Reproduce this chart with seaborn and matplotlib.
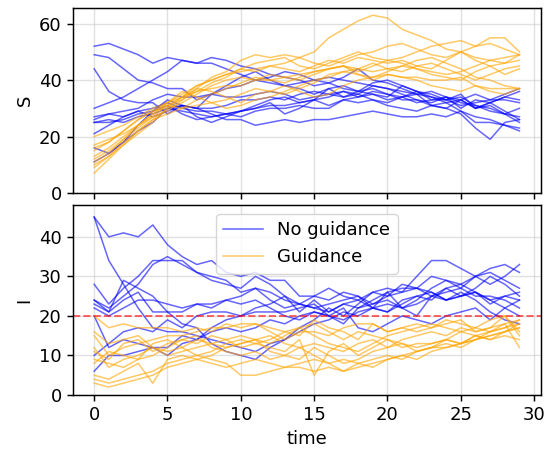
import numpy as np
import pandas as pd
import matplotlib
matplotlib.use("Agg")
import matplotlib.pyplot as plt
import seaborn as sns

time = list(range(30))

# S, No guidance
S_no = [
    [52,53,51,49,46,48,47,46,48,47,45,44,42,41,40,38,39,37,36,37,35,34,36,33,34,32,31,30,28,27],
    [49,48,44,40,39,37,37,33,35,34,34,35,36,35,33,34,35,36,34,36,35,33,33,31,32,29,27,26,24,22],
    [44,36,33,32,32,28,31,30,35,38,41,43,40,38,37,35,37,38,36,39,40,38,36,34,33,35,30,32,29,26],
    [30,32,34,37,40,43,47,46,46,44,42,40,39,38,39,40,41,40,39,38,37,36,35,34,32,33,30,31,28,25],
    [27,28,29,30,33,35,34,34,35,37,38,40,41,43,42,40,39,41,44,40,39,37,35,36,34,33,30,32,34,36],
    [25,26,25,27,28,30,31,30,30,31,33,33,34,33,35,36,35,34,36,35,34,38,36,35,33,34,31,29,28,30],
    [25,25,26,28,29,31,28,26,27,28,29,31,33,34,32,33,34,36,35,38,37,35,33,32,34,30,33,32,34,33],
    [21,24,27,29,30,32,30,29,29,28,27,29,30,30,31,30,30,33,32,33,31,30,29,31,30,28,23,19,25,26],
    [16,14,18,22,25,30,29,28,27,28,29,30,31,31,32,33,31,33,34,35,33,34,32,33,33,31,32,33,35,37],
    [11,14,18,24,29,33,31,27,25,27,29,30,32,28,30,33,37,34,35,33,32,34,35,31,30,33,35,33,33,32],
    [26,28,27,29,27,29,31,30,28,26,26,24,25,26,25,26,26,27,28,29,28,27,27,28,27,29,25,25,24,23],
]
# S, Guidance
S_yes = [
    [7,12,17,22,26,30,34,38,40,42,43,44,45,46,48,50,55,58,61,63,62,58,56,54,51,50,48,47,46,49],
    [11,14,19,23,27,29,33,37,41,43,47,49,48,49,48,46,45,47,49,50,52,53,51,49,48,50,52,55,55,50],
    [13,16,20,24,27,31,33,36,39,41,44,46,47,48,45,44,46,48,50,48,47,48,50,52,53,54,52,53,51,49],
    [15,18,22,26,29,32,35,38,40,42,44,43,45,44,43,45,47,46,48,47,46,47,45,44,47,50,47,45,46,47],
    [10,13,17,21,25,30,32,35,38,40,41,40,42,41,40,42,44,45,44,43,44,45,44,43,42,43,45,47,48,49],
    [17,19,21,24,28,31,30,33,35,37,39,41,40,39,41,43,44,45,43,45,47,46,44,42,41,40,43,45,42,44],
    [20,22,24,27,30,32,34,36,37,38,38,40,40,41,42,43,44,45,42,41,42,41,41,40,40,41,38,36,35,37],
    [16,18,22,26,29,31,34,37,36,34,32,35,36,38,36,34,35,38,40,41,43,45,47,48,46,44,41,40,38,37],
    [12,15,19,24,28,32,36,34,32,30,31,33,34,36,38,40,41,43,42,40,42,41,40,38,37,36,38,37,37,37],
    [9,13,18,22,26,28,30,31,32,33,35,37,36,35,37,39,42,43,44,46,44,43,45,46,44,42,40,42,44,45],
]
# I, No guidance
I_no = [
    [45,40,41,40,43,38,35,33,34,31,30,31,29,29,25,25,24,26,25,23,25,26,27,30,29,27,25,25,24,22],
    [45,34,28,22,17,16,16,15,14,13,12,11,13,14,16,18,19,21,20,22,23,22,24,27,29,28,30,31,29,27],
    [24,21,29,27,25,21,18,17,13,11,10,9,12,14,17,19,22,20,23,26,25,28,27,26,24,25,27,30,28,25],
    [28,23,27,30,34,34,34,31,30,29,26,27,26,24,23,25,27,25,24,26,27,26,30,34,34,32,30,28,30,33],
    [24,22,25,28,33,35,33,31,29,28,27,30,28,25,21,24,21,23,22,24,26,22,23,25,26,27,30,32,33,31],
    [23,21,24,26,21,21,21,23,23,24,25,27,24,22,23,22,23,24,25,22,21,23,25,24,27,28,26,24,22,20],
    [10,13,16,17,16,19,17,20,21,21,20,22,23,25,23,22,21,23,24,22,26,27,27,25,24,25,26,24,25,24],
    [6,10,10,11,12,10,13,14,17,19,20,21,21,21,22,23,20,18,22,23,24,22,20,25,27,25,26,23,25,26],
    [22,20,22,24,24,23,22,23,22,24,23,24,22,20,19,21,20,19,21,22,21,24,25,26,24,26,24,21,19,18],
    [20,12,14,13,12,12,15,14,16,17,16,17,19,18,20,21,20,22,17,16,18,20,19,18,20,21,22,19,22,24],
]
# I, Guidance
I_yes = [
    [20,17,18,17,17,17,16,17,16,18,17,18,17,16,15,19,17,16,14,18,16,17,18,17,19,18,17,16,17,18],
    [15,10,12,13,14,15,15,16,17,17,18,18,16,14,16,16,15,17,18,18,16,17,16,17,18,19,16,17,20,15],
    [12,7,9,10,12,11,12,14,13,12,13,14,15,13,12,13,12,11,13,14,12,14,15,16,15,17,16,17,18,12],
    [8,11,10,9,13,14,12,10,11,13,14,13,12,11,14,5,11,13,10,12,14,13,11,12,14,13,15,16,17,19],
    [5,4,6,8,3,9,10,9,10,12,13,14,11,10,9,12,10,8,9,11,12,13,12,13,14,13,14,15,16,18],
    [4,3,4,5,6,8,9,10,9,8,5,5,6,7,8,9,8,6,7,8,9,10,11,12,13,12,14,15,16,17],
    [3,2,3,4,5,7,8,9,8,7,8,9,8,7,7,6,7,6,8,9,10,9,11,12,12,13,14,16,18,19],
    [16,13,14,15,12,10,11,12,13,14,15,14,13,15,17,18,16,14,16,15,14,12,13,13,14,16,15,14,15,14],
    [9,8,7,9,10,12,14,13,15,14,12,13,14,16,17,15,13,12,11,13,15,16,17,18,17,16,17,19,20,16],
    [11,9,13,14,11,13,14,15,12,11,10,11,9,10,12,10,8,9,8,7,9,10,9,11,12,13,15,14,16,17],
]

def to_long(no, yes, name):
    rows = []
    for label, runs in (("No guidance", no), ("Guidance", yes)):
        for r, vals in enumerate(runs):
            for t, v in zip(time, vals):
                rows.append({"time": t, name: v, "group": label, "run": f"{label}-{r}"})
    return pd.DataFrame(rows)

dfS = to_long(S_no, S_yes, "S")
dfI = to_long(I_no, I_yes, "I")

plt.rcParams["font.family"] = ["DejaVu Sans"]
plt.rcParams["axes.linewidth"] = 1.05
FS = 13
fig = plt.figure(figsize=(5.44, 4.54), dpi=100)
ax1 = fig.add_axes([0.134, 0.575, 0.86, 0.407])
ax2 = fig.add_axes([0.134, 0.130, 0.86, 0.418], sharex=ax1)

pal = {"No guidance": "blue", "Guidance": "orange"}
sns.lineplot(data=dfS, x="time", y="S", hue="group", units="run", estimator=None,
             palette=pal, alpha=0.6, lw=1.1, ax=ax1, legend=False)
sns.lineplot(data=dfI, x="time", y="I", hue="group", units="run", estimator=None,
             palette=pal, alpha=0.6, lw=1.1, ax=ax2)
ax2.axhline(20, color="red", ls="--", alpha=0.6, lw=1.4)

for ax in (ax1, ax2):
    ax.grid(True, color="#cccccc", alpha=0.6, lw=1.0)
    ax.tick_params(labelsize=FS, length=4.5, width=1.05)
ax1.set_ylim(0, 65.5)
ax2.set_ylim(0, 48)
ax1.set_xlim(-1.45, 30.45)
ax1.set_xlabel("")
plt.setp(ax1.get_xticklabels(), visible=False)
ax2.set_xlabel("time", fontsize=FS)
ax1.set_ylabel("S", fontsize=FS)
ax2.set_ylabel("I", fontsize=FS)

leg = ax2.legend(loc="upper center", fontsize=FS, title=None, handlelength=2.2)

fig.savefig("out.png", dpi=100)
